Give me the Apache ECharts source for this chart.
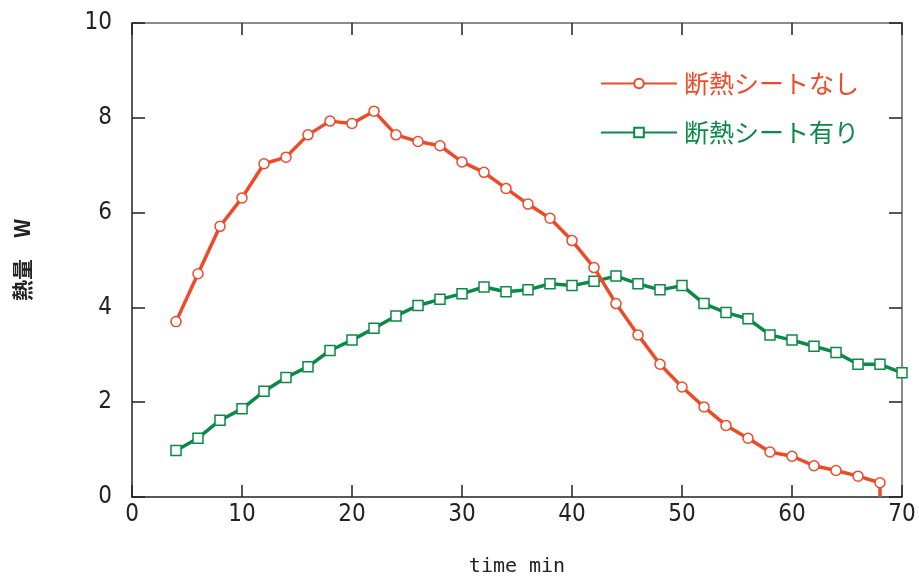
<!DOCTYPE html>
<html>
<head>
<meta charset="utf-8">
<script src="https://cdn.jsdelivr.net/npm/echarts@6/dist/echarts.min.js"></script>
<style>html,body{margin:0;padding:0;background:#fff}#c{width:919px;height:580px}</style>
</head>
<body>
<div id="c"></div>
<script>
var times = [4,6,8,10,12,14,16,18,20,22,24,26,28,30,32,34,36,38,40,42,44,46,48,50,52,54,56,58,60,62,64,66,68,70];
var seriesNames = ['断熱シートなし', '断熱シート有り'];
var withoutSheet = [3.70,4.71,5.71,6.31,7.03,7.17,7.64,7.93,7.88,8.14,7.64,7.50,7.41,7.07,6.85,6.51,6.18,5.88,5.41,4.84,4.08,3.42,2.80,2.32,1.90,1.51,1.24,0.95,0.86,0.66,0.56,0.44,0.30];
var withoutSheetEnd = [68, 0];
var withSheet = [0.98,1.24,1.62,1.86,2.23,2.52,2.75,3.09,3.31,3.56,3.82,4.04,4.17,4.29,4.43,4.33,4.37,4.50,4.46,4.55,4.66,4.50,4.37,4.46,4.08,3.89,3.76,3.42,3.31,3.18,3.05,2.80,2.80,2.62];
var xTicks = [0,10,20,30,40,50,60,70];
var yTicks = [0,2,4,6,8,10];

var RED = '#ee4a2a', GREEN = '#0a8a46';
var numFont = "'Liberation Sans Narrow','DejaVu Sans Condensed','Liberation Sans',sans-serif";

var redData = withoutSheet.map(function(v,i){return [times[i], v];});
redData.push({value: withoutSheetEnd, symbol: 'none'});
var greenData = withSheet.map(function(v,i){return [times[i], v];});

var chart = echarts.init(document.getElementById('c'), null, {renderer:'canvas'});
chart.setOption({
  animation: false,
  backgroundColor: '#fff',
  grid: {left: 132, right: 17, top: 23, bottom: 83, containLabel: false, outerBoundsMode: 'none'},
  legend: {
    orient: 'vertical', left: 595, top: 66, itemWidth: 76, itemHeight: 12, itemGap: 24,
    data: [
      {name: seriesNames[0], textStyle: {color: RED}},
      {name: seriesNames[1], textStyle: {color: GREEN}}
    ],
    textStyle: {fontFamily: "'Noto Sans CJK JP',sans-serif", fontSize: 25, padding: [0,0,0,2]}
  },
  xAxis: [{
    type: 'value', min: 0, max: 70, interval: 10, position: 'bottom',
    name: 'time min', nameLocation: 'middle', nameGap: 60,
    nameTextStyle: {fontFamily: "'DejaVu Sans Mono',monospace", fontSize: 20, color: '#222'},
    axisLine: {show: true, onZero: false, lineStyle: {color: '#222', width: 1.5}},
    axisTick: {show: true, inside: true, length: 12, lineStyle: {color: '#222', width: 1.5}},
    axisLabel: {fontFamily: numFont, fontSize: 24, color: '#222', margin: 6,
      formatter: function(v){return xTicks.indexOf(v) >= 0 ? String(v) : '';}},
    splitLine: {show: false}
  },{
    type: 'value', min: 0, max: 70, interval: 10, position: 'top',
    axisLine: {show: true, onZero: false, lineStyle: {color: '#666', width: 1.5}},
    axisTick: {show: true, inside: true, length: 12, lineStyle: {color: '#222', width: 1.5}},
    axisLabel: {show: false}, splitLine: {show: false}
  }],
  yAxis: [{
    type: 'value', min: 0, max: 10, interval: 2, position: 'left',
    name: '熱量　W', nameLocation: 'middle', nameGap: 99, nameRotate: 90,
    nameTextStyle: {fontFamily: "'Noto Sans CJK JP',sans-serif", fontSize: 21, fontWeight: 'bold', color: '#222'},
    axisLine: {show: true, onZero: false, lineStyle: {color: '#222', width: 1.5}},
    axisTick: {show: true, inside: true, length: 13, lineStyle: {color: '#222', width: 1.5}},
    axisLabel: {fontFamily: numFont, fontSize: 24, color: '#222', margin: 20,
      formatter: function(v){return yTicks.indexOf(v) >= 0 ? String(v) : '';}},
    splitLine: {show: false}
  },{
    type: 'value', min: 0, max: 10, interval: 2, position: 'right',
    axisLine: {show: true, onZero: false, lineStyle: {color: '#666', width: 1.5}},
    axisTick: {show: true, inside: true, length: 13, lineStyle: {color: '#222', width: 1.5}},
    axisLabel: {show: false}, splitLine: {show: false}
  }],
  series: [{
    name: seriesNames[0], type: 'line', data: redData,
    symbol: 'circle', symbolSize: 10, showAllSymbol: true,
    lineStyle: {color: RED, width: 3.5},
    itemStyle: {color: '#fff', borderColor: RED, borderWidth: 1.5},
    color: RED, z: 3
  },{
    name: seriesNames[1], type: 'line', data: greenData,
    symbol: 'rect', symbolSize: 10, showAllSymbol: true,
    lineStyle: {color: GREEN, width: 3.5},
    itemStyle: {color: '#fff', borderColor: GREEN, borderWidth: 1.5},
    color: GREEN, z: 2
  }]
});
</script>
</body>
</html>
